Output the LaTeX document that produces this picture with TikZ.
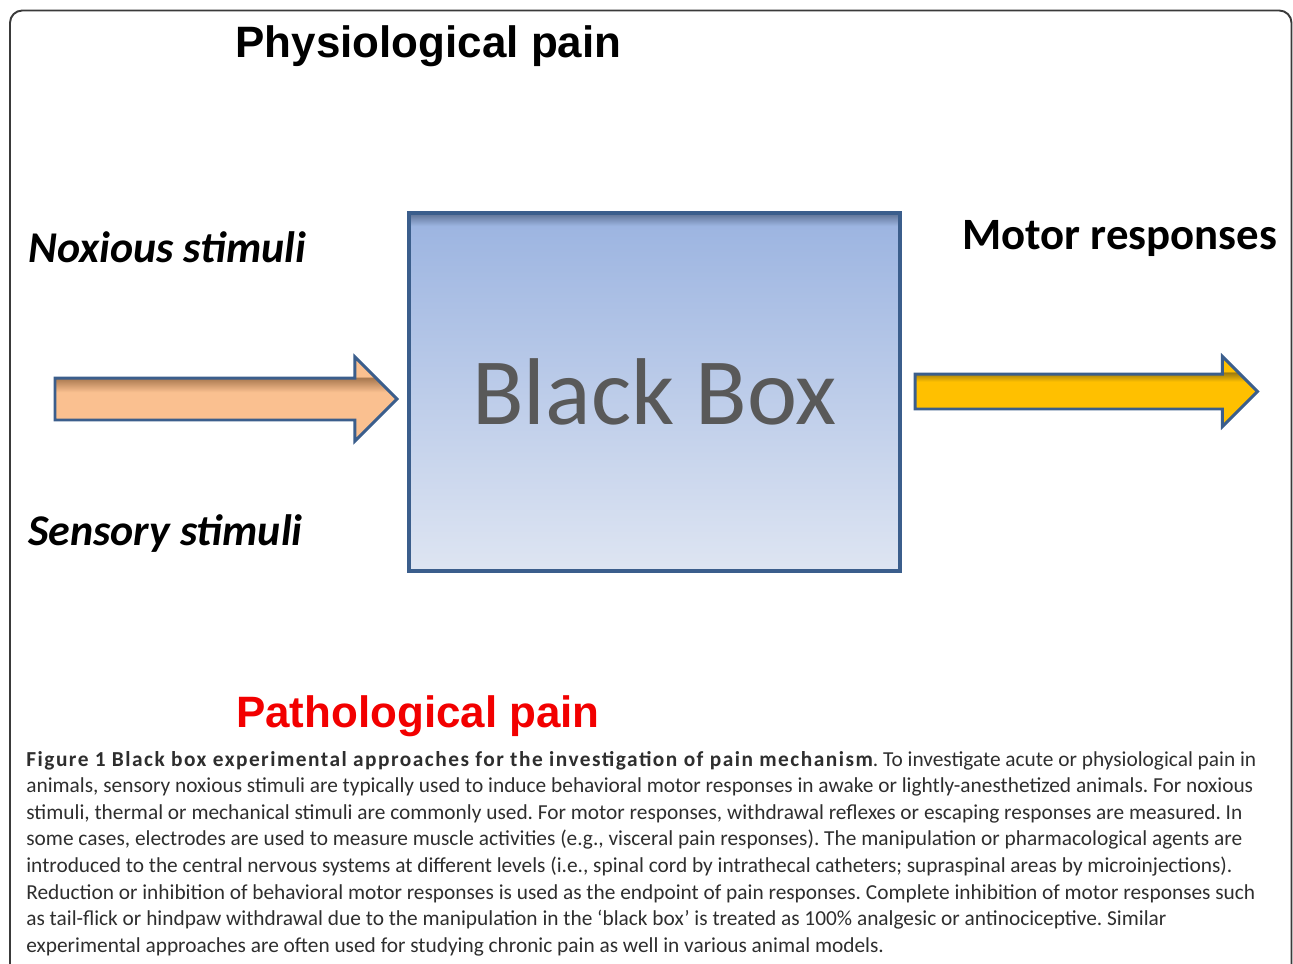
\documentclass[tikz,border=0pt]{standalone}
\usepackage{fontspec}
\setmainfont{Carlito}
\newfontfamily\arialfont{Liberation Sans}
\usetikzlibrary{shapes.arrows}

% --- Colores ---
\definecolor{framecol}{HTML}{3A3A3A}
\definecolor{arrowline}{HTML}{3B5E8C}
\definecolor{peach}{HTML}{FAC090}   \definecolor{peachdark}{HTML}{A8784F}
\definecolor{gold}{HTML}{FFC000}    \definecolor{golddark}{HTML}{9C7A10}
\definecolor{boxtop}{HTML}{9DB5E1}  \definecolor{boxbot}{HTML}{DEE5F2}
\definecolor{boxshadow}{HTML}{5B6F92}
\definecolor{boxtext}{HTML}{595959}
\definecolor{capttext}{HTML}{2E2E2E}
\definecolor{pathred}{HTML}{F20000}

% --- Sombreados con borde superior oscuro ---
\pgfdeclareverticalshading{boxshade}{100bp}{color(0bp)=(boxbot); color(25bp)=(boxbot);
  color(73.2bp)=(boxtop); color(75bp)=(boxshadow); color(100bp)=(boxshadow)}
\pgfdeclareverticalshading{peachshade}{100bp}{color(0bp)=(peach); color(54bp)=(peach);
  color(62.5bp)=(peachdark); color(63.5bp)=(peach); color(100bp)=(peach)}
\pgfdeclareverticalshading{goldshade}{100bp}{color(0bp)=(gold); color(57bp)=(gold);
  color(63.5bp)=(golddark); color(64.5bp)=(gold); color(100bp)=(gold)}

\begin{document}
\begin{tikzpicture}[x=0.02cm, y=-0.02cm,
    blockarrow/.style={single arrow, draw=arrowline, line width=1.7pt, inner xsep=0pt,
      single arrow head indent=0pt, single arrow tip angle=90, anchor=tail},
    painlabel/.style={font=\arialfont\bfseries\fontsize{25}{30}\selectfont, anchor=base},
    stimlabel/.style={font=\bfseries\itshape\fontsize{25}{30}\selectfont, anchor=base west},
  ]
    \useasboundingbox (0,0) rectangle (1293,963);
    \clip (0,0) rectangle (1293,963);

    % --- Marco de la figura ---
    \draw[framecol, line width=1.1pt, rounded corners=7pt] (10,990) -- (10,10.5) -- (1291.5,10.5) -- (1291.5,990);

    % --- Titulos ---
    \node[painlabel] (physio) at (428.5,58) {Physiological pain};
    \node[painlabel, text=pathred] (patho) at (418,727) {Pathological pain};

    % --- Estimulos y respuestas ---
    \node[stimlabel] (noxious) at (22,262) {Noxious stimuli};
    \node[stimlabel] (sensory) at (22,545) {Sensory stimuli};
    \node[font=\bfseries\fontsize{25.5}{30}\selectfont, anchor=base west] (motor) at (956,249) {Motor responses};

    % --- Caja negra ---
    \node[draw=arrowline, line width=2.3pt, outer sep=0pt, inner sep=0pt,
          minimum width=9.82cm, minimum height=7.16cm, shading=boxshade,
          text=boxtext, font=\fontsize{54}{60}\selectfont] (box) at (654.5,392) {Black Box};

    % --- Flecha de entrada ---
    \node[blockarrow, shading=peachshade, inner ysep=0.39cm, single arrow head extend=0.42cm,
          minimum height=6.84cm] (inarrow) at (53.5,399) {};

    % --- Flecha de salida ---
    \node[blockarrow, shading=goldshade, inner ysep=0.32cm, single arrow head extend=0.35cm,
          minimum height=6.85cm] (outarrow) at (913.5,391.5) {};

    % --- Pie de figura ---
    \node[anchor=north west, inner sep=0pt, align=left, text=capttext,
          font=\fontsize{12.15}{15.1}\selectfont\frenchspacing] (caption) at (26,751)
    {{\bfseries\addfontfeatures{LetterSpace=7}Figure 1 Black box experimental approaches for the investigation of pain mechanism}. To investigate acute or physiological pain in\\
     animals, sensory noxious stimuli are typically used to induce behavioral motor responses in awake or lightly-anesthetized animals. For noxious\\
     stimuli, thermal or mechanical stimuli are commonly used. For motor responses, withdrawal reflexes or escaping responses are measured. In\\
     some cases, electrodes are used to measure muscle activities (e.g., visceral pain responses). The manipulation or pharmacological agents are\\
     introduced to the central nervous systems at different levels (i.e., spinal cord by intrathecal catheters; supraspinal areas by microinjections).\\
     Reduction or inhibition of behavioral motor responses is used as the endpoint of pain responses. Complete inhibition of motor responses such\\
     as tail-flick or hindpaw withdrawal due to the manipulation in the ‘black box’ is treated as 100\% analgesic or antinociceptive. Similar\\
     experimental approaches are often used for studying chronic pain as well in various animal models.};
\end{tikzpicture}
\end{document}
